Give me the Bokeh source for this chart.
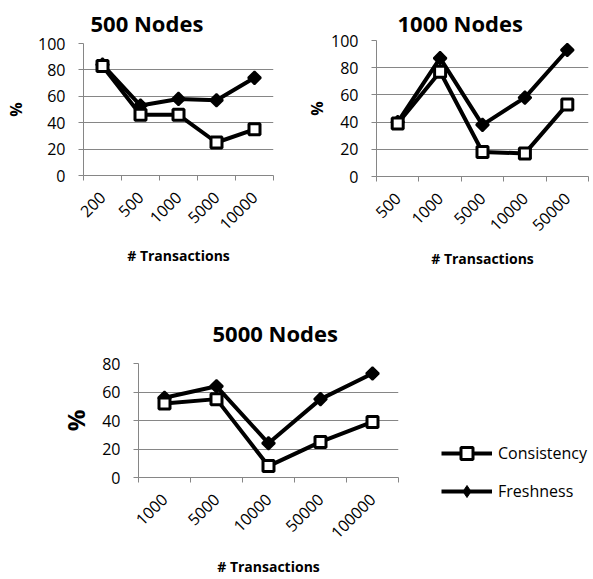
import math
from bokeh.plotting import figure
from bokeh.layouts import column, row
from bokeh.models import Range1d, FixedTicker, Legend, LegendItem
from bokeh.embed import file_html
from bokeh.resources import INLINE

# ---- data ----
cats_500 = ["200", "500", "1000", "5000", "10000"]
consistency_500 = [83, 46, 46, 25, 35]
freshness_500 = [84, 53, 58, 57, 74]

cats_1000 = ["500", "1000", "5000", "10000", "50000"]
consistency_1000 = [39, 77, 18, 17, 53]
freshness_1000 = [40, 87, 38, 58, 93]

cats_5000 = ["1000", "5000", "10000", "50000", "100000"]
consistency_5000 = [52, 55, 8, 25, 39]
freshness_5000 = [56, 64, 24, 55, 73]

y_ticks_100 = [0, 20, 40, 60, 80, 100]
y_ticks_80 = [0, 20, 40, 60, 80]

series_names = ["Consistency", "Freshness"]

FONT = "Open Sans"
GRID = "#868686"
TXT = "#000000"


def draw_series(p, xs, cons, fresh, legend_style=False):
    fl = p.line(xs, fresh, line_color="black", line_width=4)
    if legend_style:
        fm = p.scatter(xs, fresh, marker="diamond", size=14,
                       fill_color="black", line_color="black", line_width=1)
    else:
        fm = p.scatter(xs, fresh, marker="square", angle=math.pi / 4, size=9,
                       fill_color="black", line_color="black", line_width=2)
    cl = p.line(xs, cons, line_color="black", line_width=4)
    cm = p.scatter(xs, cons, marker="square", size=11,
                   fill_color="white", line_color="black", line_width=3)
    return (cl, cm), (fl, fm)


def make(title, cats, cons, fresh, yticks, w, h, bl, br, bt, bb,
         title_off, title_standoff, title_valign, pct_size, pct_standoff, xl_standoff):
    n = len(cats)
    xs = [i + 1 for i in range(n)]
    p = figure(width=w, height=h, output_backend="svg", toolbar_location=None,
               x_range=Range1d(0.5, n + 0.5), y_range=Range1d(yticks[0], yticks[-1]),
               min_border_left=bl, min_border_right=br, min_border_top=bt,
               min_border_bottom=bb, outline_line_color=None, frame_align=False)
    p.title.text = title
    p.title.text_font = FONT
    p.title.text_font_size = "22px"
    p.title.text_font_style = "bold"
    p.title.text_color = TXT
    p.title.align = "left"
    p.title.vertical_align = title_valign
    p.title.offset = title_off
    p.title.standoff = title_standoff

    # y axis
    p.yaxis.ticker = FixedTicker(ticks=yticks)
    p.ygrid.ticker = FixedTicker(ticks=yticks)
    p.ygrid.grid_line_color = GRID
    p.xgrid.visible = False
    p.yaxis.axis_line_color = GRID
    p.yaxis.major_tick_line_color = GRID
    p.yaxis.major_tick_out = 5
    p.yaxis.major_tick_in = 0
    p.yaxis.minor_tick_line_color = None
    p.yaxis.major_label_text_font = FONT
    p.yaxis.major_label_text_font_size = "16px"
    p.yaxis.major_label_text_color = TXT
    p.yaxis.major_label_standoff = 13
    p.yaxis.axis_label = "%"
    p.yaxis.axis_label_text_font = FONT
    p.yaxis.axis_label_text_font_size = pct_size
    p.yaxis.axis_label_text_font_style = "bold"
    p.yaxis.axis_label_text_color = TXT
    p.yaxis.axis_label_standoff = pct_standoff

    # x axis: labels at category centres, tick marks at category boundaries
    p.xaxis.ticker = FixedTicker(ticks=xs, minor_ticks=[i + 0.5 for i in range(n + 1)])
    p.xaxis.major_label_overrides = {x: c for x, c in zip(xs, cats)}
    p.xaxis.axis_line_color = GRID
    p.xaxis.major_tick_out = 0
    p.xaxis.major_tick_in = 0
    p.xaxis.minor_tick_out = 5
    p.xaxis.minor_tick_in = 0
    p.xaxis.minor_tick_line_color = GRID
    p.xaxis.major_label_orientation = math.pi / 4
    p.xaxis.major_label_text_font = FONT
    p.xaxis.major_label_text_font_size = "16px"
    p.xaxis.major_label_text_color = TXT
    p.xaxis.major_label_standoff = 14
    p.xaxis.axis_label = "# Transactions"
    p.xaxis.axis_label_text_font = FONT
    p.xaxis.axis_label_text_font_size = "14px"
    p.xaxis.axis_label_text_font_style = "bold"
    p.xaxis.axis_label_text_color = TXT
    p.xaxis.axis_label_standoff = xl_standoff

    return p, draw_series(p, xs, cons, fresh)


p1, _ = make("500 Nodes", cats_500, consistency_500, freshness_500, y_ticks_100,
             290, 290, 83, 17, 43, 115, 7, 7, "top", "16px", 8, 8)
p2, _ = make("1000 Nodes", cats_1000, consistency_1000, freshness_1000, y_ticks_100,
             303, 290, 86, 5, 40, 114, 21, 1, "top", "16px", 0, 10)
p3, _ = make("5000 Nodes", cats_5000, consistency_5000, freshness_5000,
             y_ticks_80, 420, 289, 138, 22, 73, 102, 74, 32, "bottom", "24px", 7, 10)

# legend panel: series drawn outside its (hidden) ranges, only the legend shows
xs3 = [i + 1 for i in range(len(cats_5000))]
p4 = figure(width=173, height=289, output_backend="svg", toolbar_location=None,
            x_range=Range1d(-10, -9), y_range=Range1d(-10, -9),
            x_axis_type=None, y_axis_type=None, outline_line_color=None,
            frame_align=False,
            min_border_left=0, min_border_right=0, min_border_top=0, min_border_bottom=0)
p4.grid.visible = False
(lc, mc), (lf, mf) = draw_series(p4, xs3, consistency_5000, freshness_5000, legend_style=True)
legend = Legend(items=[LegendItem(label=series_names[0], renderers=[lc, mc]),
                       LegendItem(label=series_names[1], renderers=[lf, mf])],
                location=(21, 73), orientation="vertical", spacing=8,
                glyph_width=51, glyph_height=30, label_standoff=6,
                padding=0, margin=0, border_line_color=None,
                background_fill_alpha=0, label_text_font=FONT,
                label_text_font_size="16px", label_text_color=TXT)
p4.add_layout(legend)

layout = column(row(p1, p2), row(p3, p4))
open("out.html", "w").write(file_html(layout, INLINE))
